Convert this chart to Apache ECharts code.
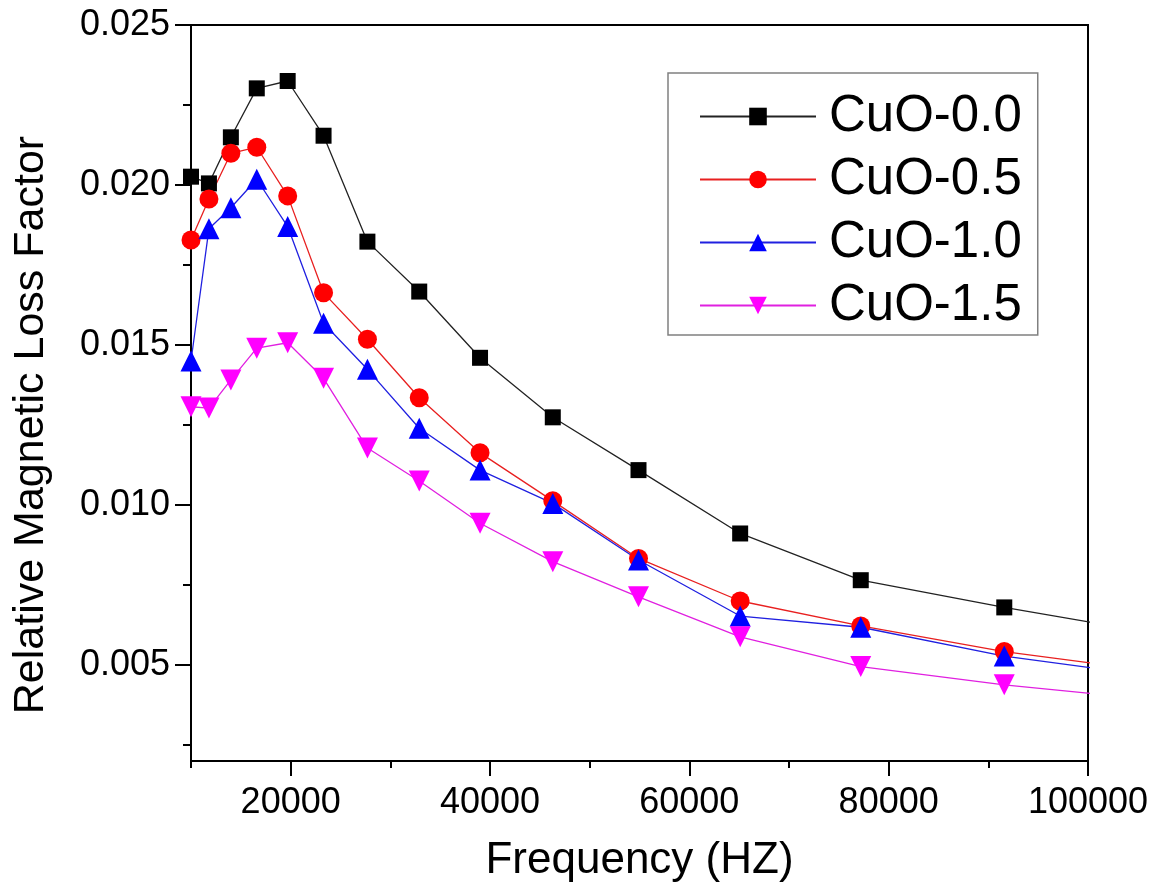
<!DOCTYPE html>
<html>
<head>
<meta charset="utf-8">
<style>
    html, body { margin: 0; padding: 0; background: #fff; }
    #chart { width: 1158px; height: 894px; }
</style>
<script src="https://cdn.jsdelivr.net/npm/echarts@6/dist/echarts.min.js"></script>
</head>
<body>
<div id="chart"></div>
<script>
    // frequency (Hz); last one lies past the axis end and is clipped
    const freq = [10000, 11800, 14000, 16600, 19700, 23300, 27700, 32900, 39000, 46300, 54900, 65100, 77200, 91600, 108600];
    const cuo00 = [0.02026, 0.02005, 0.02149, 0.02302, 0.02325, 0.02154, 0.01823, 0.01667, 0.01460, 0.01274, 0.01109, 0.00911, 0.00765, 0.00680, 0.00589];
    const cuo05 = [0.01828, 0.01956, 0.02099, 0.02118, 0.01966, 0.01663, 0.01518, 0.01335, 0.01163, 0.01013, 0.00833, 0.00700, 0.00622, 0.00542, 0.00472];
    const cuo10 = [0.01450, 0.01863, 0.01929, 0.02018, 0.01870, 0.01568, 0.01424, 0.01240, 0.01109, 0.01005, 0.00828, 0.00653, 0.00618, 0.00528, 0.00457];
    const cuo15 = [0.01307, 0.01303, 0.01391, 0.01490, 0.01507, 0.01396, 0.01178, 0.01075, 0.00943, 0.00823, 0.00713, 0.00588, 0.00495, 0.00438, 0.00385];

    const xMajor = [20000, 40000, 60000, 80000, 100000];
    const xMinor = [10000, 30000, 50000, 70000, 90000];
    const yMajor = [0.005, 0.010, 0.015, 0.020, 0.025];
    const yMinor = [0.0025, 0.0075, 0.0125, 0.0175, 0.0225];

    const font = '"Liberation Sans", Arial, sans-serif';

    function pairs(ys) {
        return freq.map((f, i) => [f, ys[i]]);
    }

    function mkSeries(name, ys, color, lineColor, symbol, size, rotate) {
        return {
            name: name,
            type: 'line',
            data: pairs(ys),
            symbol: symbol,
            symbolSize: size,
            symbolRotate: rotate || 0,
            clip: true,
            animation: false,
            itemStyle: {color: color},
            lineStyle: {color: lineColor, width: 1.3}
        };
    }

    const chart = echarts.init(document.getElementById('chart'));
    const option = {
        backgroundColor: '#fff',
        grid: {
            left: 191, right: 70, top: 25, bottom: 133,
            show: true, borderColor: '#000', borderWidth: 2
        },
        legend: {
            orient: 'vertical',
            left: 668, top: 73,
            width: 368,
            padding: [18, 16, 4, 31],
            itemGap: 12,
            itemWidth: 116,
            itemHeight: 22,
            borderColor: '#808080',
            borderWidth: 1.5,
            backgroundColor: '#fff',
            textStyle: {fontFamily: font, fontSize: 51, color: '#000', padding: [0, 0, 0, 8]},
            data: ['CuO-0.0', 'CuO-0.5', 'CuO-1.0', 'CuO-1.5']
        },
        xAxis: [{
            type: 'value', min: 10000, max: 100000,
            name: 'Frequency (HZ)', nameLocation: 'middle', nameGap: 78,
            nameTextStyle: {fontFamily: font, fontSize: 44, color: '#000'},
            axisLine: {show: true, lineStyle: {color: '#000', width: 2}},
            axisTick: {show: true, customValues: xMajor, length: 15, lineStyle: {color: '#000', width: 2}},
            axisLabel: {customValues: xMajor, margin: 24, fontFamily: font, fontSize: 36, color: '#000',
                formatter: v => String(v)},
            splitLine: {show: false}
        }, {
            type: 'value', min: 10000, max: 100000, position: 'bottom',
            axisLine: {show: false},
            axisTick: {show: true, customValues: xMinor, length: 7, lineStyle: {color: '#000', width: 2}},
            axisLabel: {show: false},
            splitLine: {show: false}
        }],
        yAxis: [{
            type: 'value', min: 0.002, max: 0.025,
            name: 'Relative Magnetic Loss Factor', nameLocation: 'middle', nameGap: 138,
            nameTextStyle: {fontFamily: font, fontSize: 43, color: '#000', padding: [0, 64, 0, 0]},
            axisLine: {show: true, lineStyle: {color: '#000', width: 2}},
            axisTick: {show: true, customValues: yMajor, length: 16, lineStyle: {color: '#000', width: 2}},
            axisLabel: {customValues: yMajor, margin: 21, fontFamily: font, fontSize: 36, color: '#000',
                formatter: v => v.toFixed(3)},
            splitLine: {show: false}
        }, {
            type: 'value', min: 0.002, max: 0.025, position: 'left',
            axisLine: {show: false},
            axisTick: {show: true, customValues: yMinor, length: 8, lineStyle: {color: '#000', width: 2}},
            axisLabel: {show: false},
            splitLine: {show: false}
        }],
        series: [
            mkSeries('CuO-0.0', cuo00, '#000000', '#222222', 'rect', 16),
            mkSeries('CuO-0.5', cuo05, '#ff0000', '#e82020', 'circle', 19),
            mkSeries('CuO-1.0', cuo10, '#0000ff', '#2020e0', 'triangle', 21),
            mkSeries('CuO-1.5', cuo15, '#ff00ff', '#e020e0', 'triangle', 21, 180)
        ]
    };
    chart.setOption(option);
</script>
</body>
</html>
